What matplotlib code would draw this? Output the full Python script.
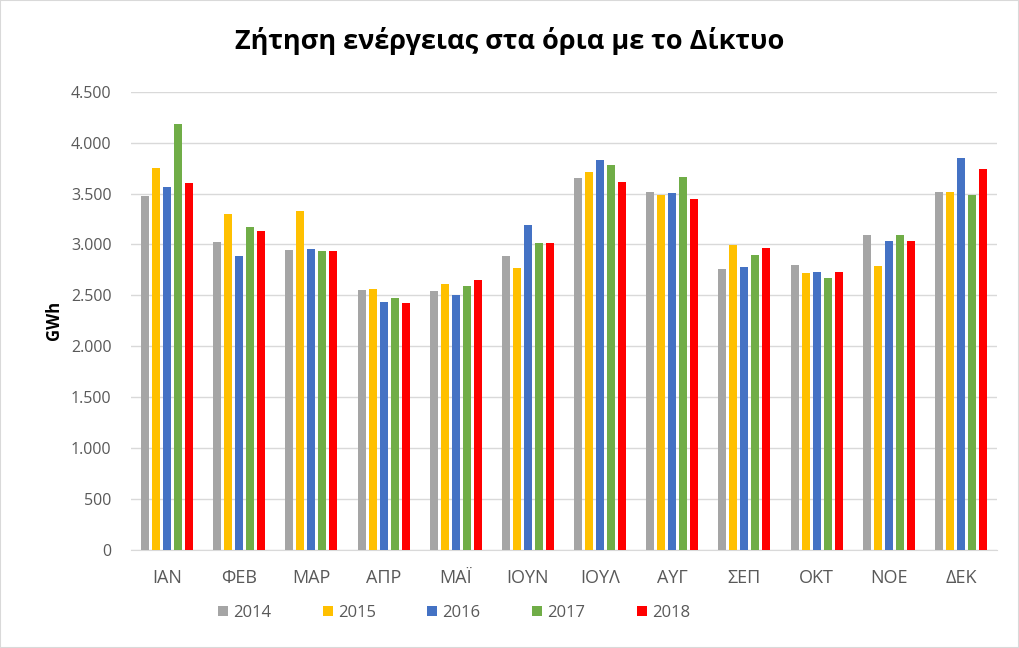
import matplotlib
matplotlib.use("Agg")
import matplotlib.pyplot as plt
import numpy as np
from matplotlib.ticker import FuncFormatter
from matplotlib.patches import Rectangle

months = ["ΙΑΝ", "ΦΕΒ", "ΜΑΡ", "ΑΠΡ", "ΜΑΪ", "ΙΟΥΝ", "ΙΟΥΛ", "ΑΥΓ", "ΣΕΠ", "ΟΚΤ", "ΝΟΕ", "ΔΕΚ"]
years = ["2014", "2015", "2016", "2017", "2018"]
v2014 = [3476, 3024, 2946, 2553, 2543, 2887, 3652, 3515, 2759, 2798, 3093, 3515]
v2015 = [3751, 3299, 3328, 2563, 2612, 2769, 3711, 3486, 2995, 2720, 2789, 3515]
v2016 = [3564, 2887, 2955, 2435, 2504, 3191, 3829, 3505, 2779, 2730, 3034, 3849]
v2017 = [4183, 3171, 2936, 2474, 2592, 3014, 3780, 3662, 2897, 2671, 3093, 3486]
v2018 = [3607, 3132, 2936, 2425, 2651, 3014, 3613, 3446, 2965, 2730, 3034, 3741]
series = [v2014, v2015, v2016, v2017, v2018]
colors = ["#A5A5A5", "#FFC000", "#4472C4", "#70AD47", "#FF0000"]

plt.rcParams['font.family'] = ['Open Sans', 'DejaVu Sans']

fig = plt.figure(figsize=(10.19, 6.48), dpi=100)
ax = fig.add_axes([131/1019, 1-550/648, (997-131)/1019, (550-91.7)/648])

x = np.arange(len(months))
width = 8/72
stride = 11/72
for i, (vals, c, yr) in enumerate(zip(series, colors, years)):
    ax.bar(x + (i-2)*stride, vals, width=width, color=c, label=yr, zorder=3)

ax.set_xlim(-0.5, len(months)-0.5)
ax.set_ylim(0, 4500)
ax.set_yticks(np.arange(0, 4501, 500))
ax.yaxis.set_major_formatter(FuncFormatter(lambda v, p: f"{int(v):,}".replace(",", ".")))
ax.set_xticks(x)
ax.set_xticklabels(months)
ax.grid(axis='y', color='#D9D9D9', linewidth=1, zorder=0)
for s in ['top', 'right', 'left']:
    ax.spines[s].set_visible(False)
ax.spines['bottom'].set_color('#D9D9D9')
ax.tick_params(axis='both', length=0, colors='#595959')
ax.tick_params(axis='x', pad=14, labelsize=13)
ax.tick_params(axis='y', pad=14, labelsize=11.5)
ax.set_ylabel("GWh", fontsize=12, fontweight='bold', color='black', labelpad=6)

fig.suptitle("Ζήτηση ενέργειας στα όρια με το Δίκτυο", fontsize=19.5, fontweight='bold', y=1-41/648, va='center')

leg = fig.legend(loc='center', bbox_to_anchor=(454/1019, 1-613/648), ncol=5, frameon=False,
                 fontsize=12, handlelength=0.6, handleheight=0.6, columnspacing=3.1, handletextpad=0.3,
                 labelcolor='#595959')

fig.patches.append(Rectangle((0, 0), 1, 1, transform=fig.transFigure, fill=False,
                             edgecolor='#D9D9D9', linewidth=1.5))
fig.savefig("out.png", dpi=100)
